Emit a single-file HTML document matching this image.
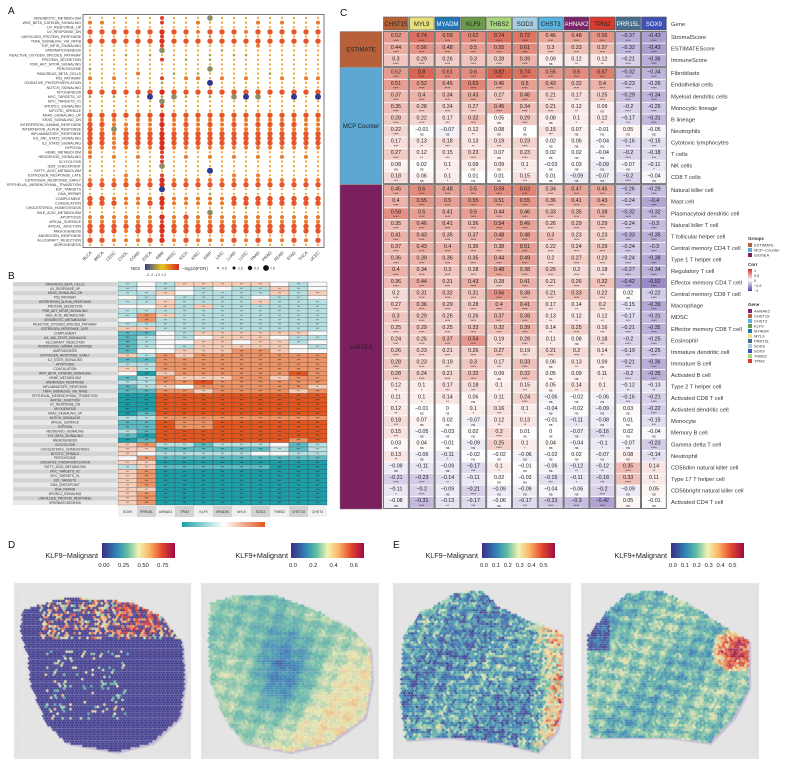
<!DOCTYPE html>
<html><head><meta charset="utf-8">
<style>
body{margin:0;width:790px;height:764px;background:#fff;position:relative;overflow:hidden;font-family:"Liberation Sans",sans-serif}
svg{position:absolute;left:0;top:0}
canvas{position:absolute;left:0;top:578px}
</style></head>
<body>
<svg id="fig" width="790" height="764"></svg>
<canvas id="tissue" width="790" height="186"></canvas>
<script>
// ---------- Panel A data ----------
const aCols=['BLCA','BRCA','CESC','CHOL','COAD','ESCA','GBM','HNSC','KICH','KIRC','KIRP','LIHC','LUAD','LUSC','PAAD','PRAD','READ','STAD','THCA','UCEC'];
const aRows=['XENOBIOTIC_METABOLISM','WNT_BETA_CATENIN_SIGNALING','UV_RESPONSE_UP','UV_RESPONSE_DN','UNFOLDED_PROTEIN_RESPONSE','TNFA_SIGNALING_VIA_NFKB','TGF_BETA_SIGNALING','SPERMATOGENESIS','REACTIVE_OXYGEN_SPECIES_PATHWAY','PROTEIN_SECRETION','PI3K_AKT_MTOR_SIGNALING','PEROXISOME','PANCREAS_BETA_CELLS','P53_PATHWAY','OXIDATIVE_PHOSPHORYLATION','NOTCH_SIGNALING','MYOGENESIS','MYC_TARGETS_V2','MYC_TARGETS_V1','MTORC1_SIGNALING','MITOTIC_SPINDLE','KRAS_SIGNALING_UP','KRAS_SIGNALING_DN','INTERFERON_GAMMA_RESPONSE','INTERFERON_ALPHA_RESPONSE','INFLAMMATORY_RESPONSE','IL6_JAK_STAT3_SIGNALING','IL2_STAT5_SIGNALING','HYPOXIA','HEME_METABOLISM','HEDGEHOG_SIGNALING','GLYCOLYSIS','G2M_CHECKPOINT','FATTY_ACID_METABOLISM','ESTROGEN_RESPONSE_LATE','ESTROGEN_RESPONSE_EARLY','EPITHELIAL_MESENCHYMAL_TRANSITION','E2F_TARGETS','DNA_REPAIR','COMPLEMENT','COAGULATION','CHOLESTEROL_HOMEOSTASIS','BILE_ACID_METABOLISM','APOPTOSIS','APICAL_SURFACE','APICAL_JUNCTION','ANGIOGENESIS','ANDROGEN_RESPONSE','ALLOGRAFT_REJECTION','ADIPOGENESIS'];
const aDots=['1111112111G111111111','22111121121111212112','11111111111111111111','33333333323332333333','1111112111g111111111','33333333333333333333','11111121111111211111','111111G1111g11111111','111g1g1111g1gg111111','11111121g1g111111111','11111111111111111111','g111111111G111111111','1111211g1g11111g1111','21211121221212112122','111111g111B111111111','11111111111111111111','33333333333333333333','g1g1gBgGg1g1GBG11B1B','111111G1111111111111','11111121111111111111','11111111111111111111','33333333333333333333','22212222222222222222','33222232323232333322','32G22222222222222222','33233333333333333333','33233333333333333333','33233333333333333333','22222232222222222222','21111121111111111111','21212121212121212121','11111121111111111111','111111G1111111111111','g111111111B111111111','11121121111121211111','22222232222222222222','33333333333333333333','111111B1111111111111','1111111111g111111111','33222232222233333333','33322332222233333333','11111121111g1g111111','1111111111G111111111','22222232322222222222','22222222222222222222','33333333333333333333','33323333333333333333','11111121111111111111','33222332322232322323','11111111111111111111'];
// ---------- Panel B data ----------
const bCols=['SOX9','PRR15L','AHNAK2','TPM2','KLF9','MYADM','MYL9','SOD3','THBS2','CHST15','CHST3'];
const bRows=['PANCREAS_BETA_CELLS','UV_RESPONSE_UP','KRAS_SIGNALING_DN','P53_PATHWAY','INTERFERON_ALPHA_RESPONSE','PROTEIN_SECRETION','PI3K_AKT_MTOR_SIGNALING','BILE_ACID_METABOLISM','XENOBIOTIC_METABOLISM','REACTIVE_OXYGEN_SPECIES_PATHWAY','ESTROGEN_RESPONSE_LATE','COMPLEMENT','IL6_JAK_STAT3_SIGNALING','ALLOGRAFT_REJECTION','INTERFERON_GAMMA_RESPONSE','ADIPOGENESIS','ESTROGEN_RESPONSE_EARLY','IL2_STAT5_SIGNALING','APOPTOSIS','COAGULATION','WNT_BETA_CATENIN_SIGNALING','HEME_METABOLISM','ANDROGEN_RESPONSE','INFLAMMATORY_RESPONSE','TNFA_SIGNALING_VIA_NFKB','EPITHELIAL_MESENCHYMAL_TRANSITION','APICAL_JUNCTION','UV_RESPONSE_DN','MYOGENESIS','KRAS_SIGNALING_UP','NOTCH_SIGNALING','APICAL_SURFACE','HYPOXIA','HEDGEHOG_SIGNALING','TGF_BETA_SIGNALING','ANGIOGENESIS','GLYCOLYSIS','CHOLESTEROL_HOMEOSTASIS','MITOTIC_SPINDLE','PEROXISOME','OXIDATIVE_PHOSPHORYLATION','FATTY_ACID_METABOLISM','MYC_TARGETS_V2','MYC_TARGETS_V1','E2F_TARGETS','G2M_CHECKPOINT','DNA_REPAIR','MTORC1_SIGNALING','UNFOLDED_PROTEIN_RESPONSE','SPERMATOGENESIS'];
const bVals=['C0Cddddd0C0','C0C0C0CCdC0','CCd0CCCCdCd','0C0CCCC0CC0','CCdCCCCdCCC','00dCdCCCCCC','CCCCCCCCCCC','CedCCCCCCCC','0eCCCCCCCCC','CCCCCCCCCCC','ddCCCCCCCCC','BB0Cdddddd0','BC0C0ddd0CC','BC00dd0ddC0','BC0Cddddd0C','B00dddeed00','dCedeeeeeee','BBeeeeeeeee','CCeeeeeeeee','dCeeeeeeeee','0Adeeeeeefe','BCedddeedee','CCeefeeeeee','BCd0eeeeeed','BBeedeeeede','AAfffffffff','AAfffffffff','AAfffffffff','AAfffffffff','ABfffffffff','CCeeeeeeeee','BBfeeffffff','BBfeeffffff','CBfffffffff','BAfffffffff','ABfffffffef','deCCBCCC0BC','ddBBBBBBCBC','d0CCCCC00CC','0eBBBBBBBBB','ddAAAAAAAAA','CdBBBBBBAAA','deAAAAAAAAA','deAAAAAAAAA','deAAAAAAAAA','deAAAAAAAAA','ddAAAAAAAAA','deAAAAAAAAA','deAAAAAAAAA','deAAAAAAAAA'];
// ---------- Panel C data ----------
const cGenes=['CHST15','MYL9','MYADM','KLF9','THBS2','SOD3','CHST3','AHNAK2','TPM2','PRR15L','SOX9'];
const cGeneColors=['#b8643a','#e6e07c','#2277b4','#6b9a48','#a8d67e','#a6cee3','#5ab2e0','#7b2468','#d93b2e','#4a6e8a','#3f51b5'];
const cGroups=['ESTIMATE','MCP Counter','ssGSEA'];
const cGroupSizes=[3,10,28];
const cRows=['StromalScore','ESTIMATEScore','ImmuneScore','Fibroblasts','Endothelial cells','Myeloid dendritic cells','Monocytic lineage','B lineage','Neutrophils','Cytotoxic lymphocytes','T cells','NK cells','CD8 T cells','Natural killer cell','Mast cell','Plasmacytoid dendritic cell','Natural killer T cell','T follicular helper cell','Central memory CD4 T cell','Type 1 T helper cell','Regulatory T cell','Effector memory CD4 T cell','Central memory CD8 T cell','Macrophage','MDSC','Effector memory CD8 T cell','Eosinophil','Immature dendritic cell','Immature  B cell','Activated B cell','Type 2 T helper cell','Activated CD8 T cell','Activated dendritic cell','Monocyte','Memory B cell','Gamma delta T cell','Neutrophil','CD56dim natural killer cell','Type 17 T helper cell','CD56bright natural killer cell','Activated CD4 T cell'];
const cVals=[
[.52,.74,.59,.62,.74,.72,.46,.48,.56,-.37,-.43],
[.44,.56,.48,.5,.55,.61,.3,.33,.37,-.32,-.43],
[.3,.29,.26,.3,.28,.39,.09,.12,.12,-.21,-.36],
[.52,.8,.61,.6,.82,.74,.55,.6,.67,-.32,-.34],
[.51,.52,.45,.63,.46,.5,.43,.32,.4,-.23,-.26],
[.37,.4,.34,.43,.27,.46,.21,.17,.25,-.29,-.34],
[.35,.28,.24,.27,.45,.34,.21,.12,.09,-.2,-.25],
[.28,.22,.17,.32,.05,.29,.08,.1,.12,-.17,-.31],
[.22,-.01,-.07,.12,.08,0,.15,.07,-.01,.05,-.05],
[.17,.13,.18,.13,.19,.23,.02,.06,-.04,-.16,-.15],
[.27,.12,.15,.23,.07,.23,.02,.02,-.04,-.2,-.18],
[.08,.02,.1,.09,.09,.1,-.03,.03,-.09,-.07,-.11],
[.18,.06,.1,.01,.01,.15,.01,-.09,-.07,-.2,-.04],
[.45,.6,.48,.5,.59,.63,.34,.47,.45,-.26,-.29],
[.4,.55,.5,.55,.51,.55,.36,.41,.43,-.24,-.4],
[.58,.5,.41,.5,.44,.46,.33,.35,.38,-.32,-.32],
[.35,.46,.41,.36,.54,.49,.26,.29,.29,-.24,-.3],
[.41,.43,.35,.37,.48,.48,.3,.23,.23,-.33,-.35],
[.37,.43,.4,.36,.38,.51,.22,.24,.29,-.24,-.3],
[.36,.39,.36,.35,.44,.49,.2,.27,.23,-.24,-.38],
[.4,.34,.3,.28,.48,.38,.26,.2,.18,-.27,-.34],
[.36,.44,.31,.43,.28,.41,.21,.26,.32,-.42,-.52],
[.2,.31,.32,.31,.56,.38,.21,.33,.22,.02,-.22],
[.27,.36,.29,.28,.4,.41,.17,.14,.2,-.15,-.39],
[.3,.29,.26,.26,.37,.38,.13,.12,.12,-.17,-.31],
[.25,.29,.25,.33,.32,.39,.14,.25,.16,-.21,-.35],
[.24,.25,.37,.54,.19,.28,.11,.08,.18,-.2,-.25],
[.26,.23,.21,.26,.27,.19,.21,.2,.14,-.19,-.25],
[.28,.23,.19,.3,.17,.33,.06,.13,.09,-.21,-.36],
[.28,.24,.21,.32,.09,.32,.05,.09,.11,-.2,-.35],
[.12,.1,.17,.18,.1,.15,.05,.14,.1,-.12,-.13],
[.11,.1,.14,.06,.11,.24,-.06,-.02,-.06,-.16,-.21],
[.12,-.01,0,.1,.16,.1,-.04,-.02,-.09,.03,-.22],
[.18,.07,.02,-.07,.12,.13,-.01,-.11,-.08,.01,-.15],
[.15,-.05,-.03,.02,.2,.01,0,-.07,-.16,.02,-.04],
[.03,.04,-.01,-.09,.25,.1,.04,-.04,-.1,-.07,-.23],
[.13,-.06,-.11,-.02,-.02,-.06,-.02,.02,-.07,.08,-.14],
[-.09,-.11,-.09,-.17,.1,-.01,-.06,-.12,-.12,.35,.14],
[-.21,-.23,-.14,-.11,.02,-.03,-.15,-.11,-.18,.33,.11],
[-.11,-.2,-.09,-.21,-.09,-.09,-.04,-.06,-.2,-.09,.05],
[-.08,-.31,-.13,-.17,-.06,-.17,-.23,-.3,-.42,.05,-.01]];
const dTicks=['0.00','0.25','0.50','0.75'];
const d2Ticks=['0.0','0.2','0.4','0.6'];
const eTicks=['0.0','0.1','0.2','0.3','0.4','0.5'];

const NS='http://www.w3.org/2000/svg';
const svg=document.getElementById('fig');
function el(tag,attrs,parent,txt){const e=document.createElementNS(NS,tag);for(const k in attrs)e.setAttribute(k,attrs[k]);if(txt!==undefined)e.textContent=txt;(parent||svg).appendChild(e);return e;}
function g(name){const e=el('g',{});return e;}
function lbl(t,x,y,name){const e=el('text',{x:x,y:y,'font-size':10,fill:'#111'},svg,t);}
lbl('A',8,14,'panel-a-label');lbl('B',8,279,'panel-b-label');lbl('C',340,16,'panel-c-label');lbl('D',8,548,'panel-d-label');lbl('E',393,548,'panel-e-label');

// ---------- Panel A ----------
const A=g('panel-a-dotplot');
const ax=i=>90+i*12, ay=j=>18+j*4.63;
const frame=el('rect',{x:83,y:14.5,width:241,height:233,fill:'none',stroke:'#555','stroke-width':0.8},A);

aRows.forEach((r,j)=>{
  const t=el('text',{x:81,y:ay(j)+1.3,'font-size':3.6,'text-anchor':'end',fill:'#333'},A,r);
  
  const s=aDots[j];
  for(let i=0;i<aCols.length;i++){
    const c=s[i];let r0=1,col='#f2a126';
    if(c==='1'){r0=1.1;col='#f3a02a';}
    else if(c==='2'){r0=2.0;col='#ec7a2a';}
    else if(c==='3'){r0=2.7;col=(i===6?'#d8321f':'#e5562a');}
    else if(c==='g'){r0=1.3;col='#a7a04c';}
    else if(c==='G'){r0=2.8;col='#8d8c62';}
    else if(c==='B'){r0=3;col='#2d3a8e';}
    if(i===6&&c==='2')col='#e0402a';
    const d=el('circle',{cx:ax(i),cy:ay(j),r:r0,fill:col},A);
    
  }
});
aCols.forEach((c,i)=>{
  const t=el('text',{x:ax(i)+2,y:253,'font-size':4.2,'text-anchor':'end',fill:'#333',transform:`rotate(-45 ${ax(i)+2} 253)`},A,c);
  
});
const defs=el('defs',{});
const lg=el('linearGradient',{id:'nes'},defs);
[['0','#333f8f'],['0.5','#e8c81e'],['1','#d42a20']].forEach(s=>el('stop',{offset:s[0],'stop-color':s[1]},lg));
const lgA=g('nes-legend');
el('text',{x:131,y:270,'font-size':4.5,fill:'#333'},lgA,'NES');
el('rect',{x:145,y:264,width:34,height:6,fill:'url(#nes)'},lgA);
el('text',{x:146,y:276,'font-size':3.5,fill:'#333'},lgA,'-3 -2 -1  0  1  2');
const lgS=g('fdr-size-legend');
el('text',{x:182,y:270,'font-size':4.5,fill:'#333'},lgS,'−log10(FDR)');
[['0.0',0.8],['2.5',1.5],['5.0',2.2],['7.5',2.9]].forEach((s,k)=>{el('circle',{cx:218+k*16,cy:268,r:s[1],fill:'#111'},lgS);el('text',{x:222+k*16,y:269.5,'font-size':3.5,fill:'#333'},lgS,s[0]);});

// ---------- Panel B ----------
const B=g('panel-b-heatmap');
const bx=i=>118+i*19, by=j=>282+j*4.46;
const bColor={A:'#1b9fa9',B:'#5dbcc3',C:'#b7e0e3','0':'#f8f8f8',d:'#f7cdb8',e:'#ef9466',f:'#e4561e'};
const bLev={A:3,B:2,C:1,'0':0,d:1,e:2,f:3};
bRows.forEach((r,j)=>{
  el('rect',{x:13,y:by(j),width:104,height:4.46,fill:j%2?'#e9e9e9':'#d3d3d3'},B);
  const t=el('text',{x:65,y:by(j)+3.3,'font-size':3.2,'text-anchor':'middle',fill:'#333'},B,r);
  
  for(let i=0;i<bCols.length;i++){
    const c=bVals[j][i];
    const cell=el('rect',{x:bx(i),y:by(j),width:19,height:4.46,fill:bColor[c],stroke:'#444','stroke-width':0.3},B);
    
    const lv=bLev[c];if(lv>0)el('text',{x:bx(i)+9.5,y:by(j)+3.6,'font-size':3.2,'text-anchor':'middle',fill:'#222'},B,lv>=2?'***':'**');
  }
});
bCols.forEach((c,i)=>{
  el('rect',{x:bx(i),y:506,width:19,height:11,fill:i%2?'#d3d3d3':'#f0f0f0'},B);
  const t=el('text',{x:bx(i)+9.5,y:513,'font-size':3.4,'text-anchor':'middle',fill:'#333'},B,c);
  
});
const lgb=el('linearGradient',{id:'bgrad'},defs);
[['0','#1b9fa9'],['0.5','#ffffff'],['1','#e4561e']].forEach(s=>el('stop',{offset:s[0],'stop-color':s[1]},lgb));
const bl=el('rect',{x:182,y:522,width:83,height:5,fill:'url(#bgrad)'},B);


// ---------- Panel C ----------
const C=g('panel-c-correlation-heatmap');
const cx0=383,cw=25.8,cy0=32,ch=11.55;
const cx=i=>cx0+i*cw, cy=j=>cy0+j*ch+(j>=3?1.5:0)+(j>=13?1.5:0);
function corrColor(v){
  if(v>=0){const t=Math.min(v/0.85,1);const a=[255,255,255],b=[214,92,72];return `rgb(${a.map((x,k)=>Math.round(x+(b[k]-x)*t)).join(',')})`;}
  const t=Math.min(-v/0.6,1);const a=[255,255,255],b=[140,120,190];return `rgb(${a.map((x,k)=>Math.round(x+(b[k]-x)*t)).join(',')})`;
}
function stars(v){const a=Math.abs(v);return a>=0.2?'****':a>=0.15?'***':a>=0.12?'**':a>=0.1?'*':'ns';}
cGenes.forEach((gname,i)=>{
  const h=el('rect',{x:cx(i)+0.5,y:17,width:cw-1,height:13,fill:cGeneColors[i],stroke:'#555','stroke-width':0.6},C);
  
  el('text',{x:cx(i)+cw/2,y:26,'font-size':6,'text-anchor':'middle',fill:(i===2||i===7||i===10||i===9)?'#fff':'#222'},C,gname);
});
el('text',{x:671,y:26,'font-size':5.8,fill:'#333'},C,'Gene');
const gColors=['#b8603a','#5ca8d2','#7b1f5e'];
let start=0;
cGroups.forEach((gn,k)=>{
  const y1=cy(start)-0.5,y2=cy(start+cGroupSizes[k]-1)+ch+0.5;
  const r=el('rect',{x:340,y:y1,width:42,height:y2-y1,fill:gColors[k],stroke:'#888','stroke-width':0.5},C);
  
  el('text',{x:361,y:(y1+y2)/2+2,'font-size':6,'text-anchor':'middle',fill:'#222'},C,gn);
  start+=cGroupSizes[k];
});
cRows.forEach((rn,j)=>{
  const t=el('text',{x:671,y:cy(j)+7,'font-size':5.8,fill:'#333'},C,rn);
  
  cVals[j].forEach((v,i)=>{
    const cell=el('rect',{x:cx(i)+1,y:cy(j),width:cw-2,height:ch-0.8,fill:corrColor(v)},C);
    
    el('text',{x:cx(i)+cw/2,y:cy(j)+5.2,'font-size':5.3,'text-anchor':'middle',fill:'#222'},C,v<0?('−'+String(Math.abs(v))):String(v));
    el('text',{x:cx(i)+cw/2,y:cy(j)+9.8,'font-size':3.6,'text-anchor':'middle',fill:'#222'},C,stars(v));
  });
});
start=0;
cGroupSizes.forEach(n=>{
  const y1=cy(start)-0.5,y2=cy(start+n-1)+ch;
  cGenes.forEach((_,i)=>el('rect',{x:cx(i)+0.5,y:y1,width:cw-1,height:y2-y1,fill:'none',stroke:'#666','stroke-width':0.9},C));
  start+=n;
});
const LC=g('panel-c-legends');
el('text',{x:748,y:240,'font-size':4.5,'font-weight':'bold',fill:'#333'},LC,'Groups');
cGroups.forEach((gn,k)=>{el('rect',{x:748,y:243+k*5,width:4,height:4,fill:gColors[k]},LC);el('text',{x:754,y:246.5+k*5,'font-size':4,fill:'#333'},LC,gn==='MCP Counter'?'MCP−Counter':gn);});
el('text',{x:748,y:266,'font-size':4.5,'font-weight':'bold',fill:'#333'},LC,'Corr');
const cg=el('linearGradient',{id:'corrg',x1:0,y1:0,x2:0,y2:1},defs);
[['0','#c8322a'],['0.5','#ffffff'],['1','#4a4aa8']].forEach(s=>el('stop',{offset:s[0],'stop-color':s[1]},cg));
el('rect',{x:748,y:269,width:4,height:22,fill:'url(#corrg)'},LC);
[['1',272],['0.5',277],['0',282],['−0.5',287],['−1',292]].forEach(s=>el('text',{x:754,y:s[1],'font-size':3.8,fill:'#333'},LC,s[0]));
el('text',{x:748,y:306,'font-size':4.5,'font-weight':'bold',fill:'#333'},LC,'Gene');
const gsort=['AHNAK2','CHST15','CHST3','KLF9','MYADM','MYL9','PRR15L','SOD3','SOX9','THBS2','TPM2'];
gsort.forEach((gn,k)=>{const ci=cGenes.indexOf(gn);el('rect',{x:748,y:309+k*5,width:4,height:4,fill:cGeneColors[ci]},LC);el('text',{x:754,y:312.5+k*5,'font-size':4,fill:'#333'},LC,gn);});

// ---------- D/E colorbars ----------
const spStops=[[0,'#3b2e86'],[0.2,'#2f84b6'],[0.35,'#62c0a4'],[0.5,'#f2f3b2'],[0.65,'#fbb566'],[0.82,'#e4492e'],[1,'#9d0a45']];
const sg=el('linearGradient',{id:'spec'},defs);
spStops.forEach(s=>el('stop',{offset:s[0],'stop-color':s[1]},sg));
function cbar(title,tx,bx0,bw,ticks,name,tmax){
  const G=g(name);
  el('text',{x:tx,y:558,'font-size':7.2,'text-anchor':'end',fill:'#222'},G,title);
  el('rect',{x:bx0,y:543,width:bw,height:15,fill:'url(#spec)'},G);
  ticks.forEach((t,k)=>el('text',{x:bx0+2+parseFloat(t)/tmax*(bw-4),y:567,'font-size':5.8,'text-anchor':'middle',fill:'#222'},G,t));
}
cbar('KLF9−Malignant',98,102,73,dTicks,'d-neg-colorbar',0.88);
cbar('KLF9+Malignant',288,291,73,d2Ticks,'d-pos-colorbar',0.68);
cbar('KLF9−Malignant',478,482,73,eTicks,'e-neg-colorbar',0.58);
cbar('KLF9+Malignant',667,671,73,eTicks,'e-pos-colorbar',0.58);

// ---------- Tissue canvases ----------
const cv=document.getElementById('tissue'),ctx=cv.getContext('2d');const OY=578;
function hex(c){return [1,3,5].map(k=>parseInt(c.substr(k,2),16));}
function cmap(t){t=Math.max(0,Math.min(1,t));for(let k=1;k<spStops.length;k++){if(t<=spStops[k][0]){const a=spStops[k-1],b=spStops[k];const f=(t-a[0])/(b[0]-a[0]);const A1=hex(a[1]),B1=hex(b[1]);return `rgb(${A1.map((x,i)=>Math.round(x+(B1[i]-x)*f)).join(',')})`;}}return spStops[6][1];}
function nz(x,y,s){return (Math.sin(x*0.21*s+y*0.13)+Math.sin(y*0.27*s-x*0.09)+Math.sin((x+y)*0.05))/3;}
function hh(x,y){const v=Math.sin(x*12.9898+y*78.233)*43758.5453;return v-Math.floor(v);}
const tissues=[
 {box:[14,583,177,176],poly:[[23,610],[66,597],[100,600],[132,602],[162,617],[182,643],[185,680],[180,717],[152,743],[116,752],[66,743],[46,723],[30,683],[28,657],[20,630]],
  f:(x,y)=>{let v=0.02;if(y<640&&x>40&&hh(x,y)>0.55)v=0.35+hh(y,x)*0.5;if(y<635&&x>115&&x<160&&hh(x,y)>0.35)v=0.6+hh(y,x)*0.4;if(y>650&&y<720&&x>45&&x<130&&hh(x,y)>0.85)v=0.3+hh(y,x)*0.3;return v;}},
 {box:[201,583,178,176],poly:[[210,603],[238,595],[273,595],[309,607],[349,627],[370,647],[372,680],[365,717],[329,743],[289,752],[243,743],[223,717],[210,680],[208,640]],
  f:(x,y)=>{const u=(x-208)/165,w=(y-595)/157;let v=0.28-0.18*Math.exp(-((u-0.45)**2)/0.03-((w-0.45)**2)/0.1)+0.15*u*w+0.06*nz(x,y,1.5);return v+0.06*(hh(x,y)-0.5);}},
 {box:[393,583,178,176],poly:[[403,637],[420,613],[456,593],[481,590],[499,607],[527,620],[562,633],[562,703],[557,730],[537,752],[501,743],[446,737],[405,740],[400,697]],
  f:(x,y)=>{const u=(x-400)/162;let v=0.1+0.12*nz(x,y,2)+0.25*hh(x,y)-0.05;if(u>0.8)v+=0.35*(u-0.8)/0.2*(0.6+hh(y,x)*0.6);return v;}},
 {box:[581,583,178,176],poly:[[587,637],[608,610],[628,593],[658,590],[689,603],[719,623],[749,640],[749,687],[734,717],[709,743],[668,737],[623,737],[590,737],[587,690]],
  f:(x,y)=>{let v=0.25+0.1*nz(x,y,1.7)+0.12*(hh(x,y)-0.5);const d=((x-735)**2+(y-650)**2);if(d<500)v+=0.3*(1-d/500)+0.2*hh(y,x);if(x<610&&y<650)v-=0.15;return v;}}
];
function inPoly(p,x,y){let c=false;for(let i=0,j=p.length-1;i<p.length;j=i++){const [xi,yi]=p[i],[xj,yj]=p[j];if(((yi>y)!==(yj>y))&&(x<(xj-xi)*(y-yi)/(yj-yi)+xi))c=!c;}return c;}
tissues.forEach(T=>{
  const [bx0,by0,bw,bh]=T.box;
  ctx.fillStyle='#e4e4e4';ctx.fillRect(bx0,by0-OY,bw,bh);
  ctx.fillStyle='#d8d8d8';
  for(let y=by0+3;y<by0+bh;y+=3){ctx.fillRect(bx0+2,y-OY,1,1);ctx.fillRect(bx0+bw-3,y-OY,1,1);}
  ctx.fillStyle='rgba(150,120,190,0.35)';ctx.beginPath();T.poly.forEach((p,k)=>{k?ctx.lineTo(p[0]+2,p[1]+2-OY):ctx.moveTo(p[0]+2,p[1]+2-OY);});ctx.fill();
  let row=0;
  for(let y=by0+2;y<by0+bh-1;y+=2.3){
    for(let x=bx0+2+(row%2)*1.3;x<bx0+bw-1;x+=2.6){
      if(!inPoly(T.poly,x,y))continue;
      ctx.fillStyle=cmap(T.f(x,y)/(T===tissues[0]?1:0.72));
      ctx.beginPath();ctx.arc(x,y-OY,1.25,0,6.283);ctx.fill();
    }
    row++;
  }
});
</script>
</body></html>
